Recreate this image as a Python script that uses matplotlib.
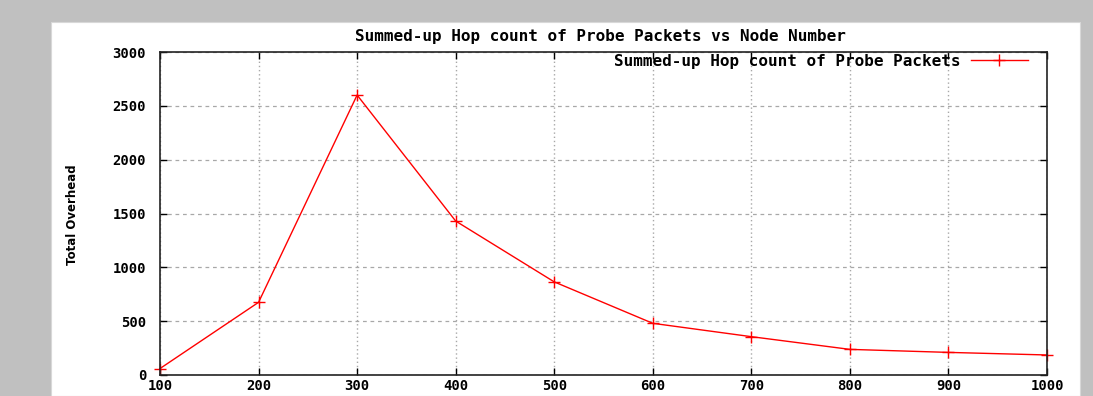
import matplotlib
matplotlib.use("Agg")
import matplotlib.pyplot as plt
from matplotlib.patches import Rectangle

node_numbers = [100, 200, 300, 400, 500, 600, 700, 800, 900, 1000]
hop_counts = [60, 675, 2600, 1430, 865, 480, 356, 238, 210, 186]
x_ticks = [100, 200, 300, 400, 500, 600, 700, 800, 900, 1000]
y_ticks = [0, 500, 1000, 1500, 2000, 2500, 3000]
title_text = "Summed-up Hop count of Probe Packets vs Node Number"
series_label = "Summed-up Hop count of Probe Packets"
y_label = "Total Overhead"

W, H = 1093, 396
fig = plt.figure(figsize=(W / 100, H / 100), dpi=100)
fig.patch.set_facecolor("#c0c0c0")
fig.patches.append(Rectangle((51 / W, 0), (1080 - 51) / W, (H - 22) / H,
                             transform=fig.transFigure, facecolor="white",
                             edgecolor="#d8d8d8", lw=0.8, zorder=-5))

ax = fig.add_axes([160 / W, 21 / H, (1047 - 160) / W, (375 - 52) / H])
ax.set_facecolor("white")
ax.set_zorder(2)

mono = dict(family="DejaVu Sans Mono", weight="bold")

ax.plot(node_numbers, hop_counts, color="red", lw=1.0, marker="+",
        markersize=8, markeredgewidth=1.0, label=series_label, clip_on=False)

ax.set_xlim(100, 1000)
ax.set_ylim(0, 3000)
ax.set_xticks(x_ticks)
ax.set_yticks(y_ticks)
ax.set_xticklabels([str(v) for v in x_ticks], fontsize=10, **mono)
ax.set_yticklabels([str(v) for v in y_ticks], fontsize=10, **mono)
ax.tick_params(direction="in", length=5, width=1, top=True, right=True,
               colors="black", pad=3)
ax.tick_params(axis="y", pad=10)

for s in ax.spines.values():
    s.set_linewidth(1.2)
    s.set_color("#222222")

ax.grid(axis="y", color="#a8a8a8", linestyle=(0, (3, 3)), lw=0.9)
ax.grid(axis="x", color="#a8a8a8", linestyle=(0, (1, 2)), lw=1.0)
ax.set_axisbelow(True)

fig.text(600 / W, 1 - 37 / H, title_text, ha="center", va="center",
         fontsize=11.5, **mono)

fig.text(72 / W, 1 - 215 / H, y_label, rotation=90, ha="center", va="center",
         fontsize=8.5, family=["Liberation Sans Narrow", "DejaVu Sans"],
         weight="bold")

leg = ax.legend(loc="upper right", bbox_to_anchor=(1028 / W, 1 - 54 / H),
                bbox_transform=fig.transFigure, frameon=False,
                markerfirst=False, handlelength=3.6, borderaxespad=0,
                borderpad=0, handletextpad=0.6,
                prop=dict(family="DejaVu Sans Mono", weight="bold", size=11.5))

fig.savefig("out.png", dpi=100, facecolor=fig.get_facecolor())
